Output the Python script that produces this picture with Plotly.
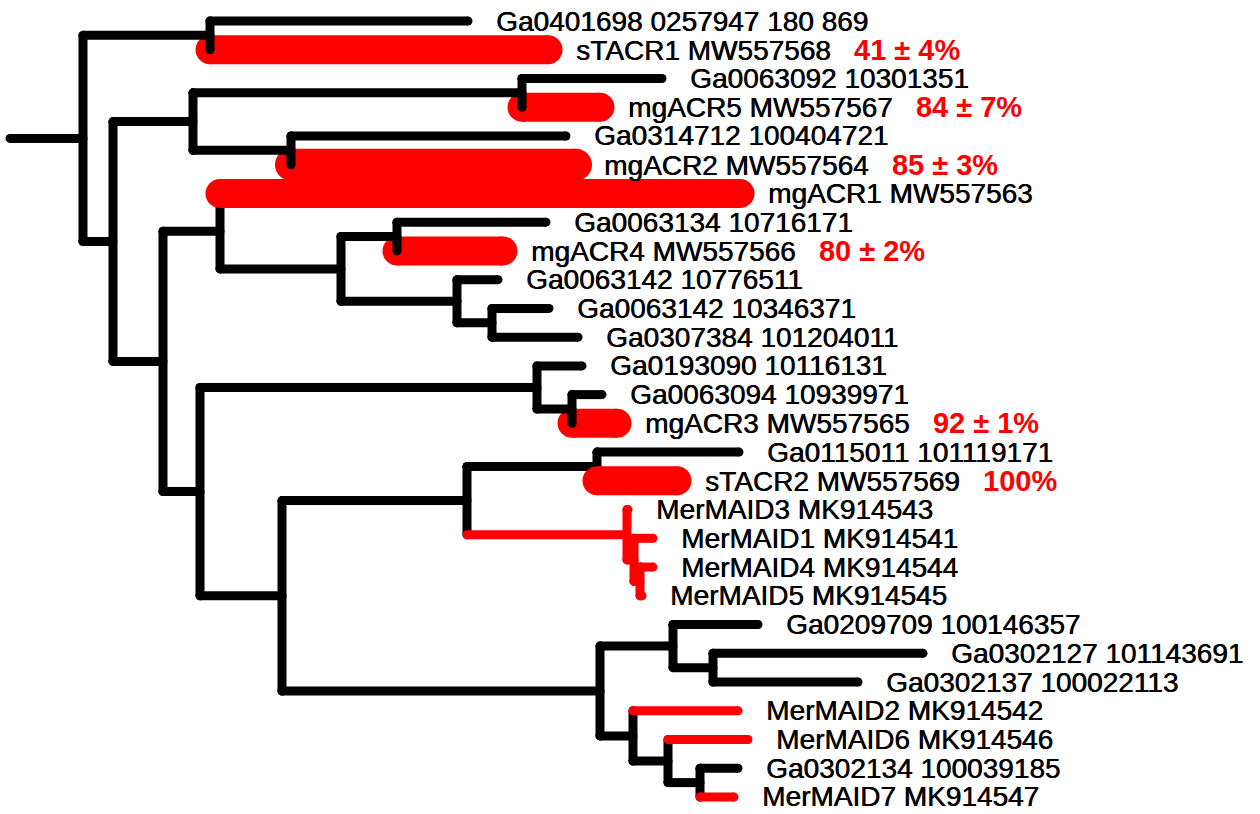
import plotly.graph_objects as go

# ---------------- data: tree topology and branch lengths ----------------
node_names = ["root", "A", "B", "B1", "B2", "B1a", "B1b", "B2a", "B2b", "B2a2", "B2a2a",
              "B2a2b", "B2a2b2", "B2b1", "B2b1b", "B2b2", "B2b2a", "B2b2a1", "M0", "M1",
              "M2", "N", "P", "Q", "R", "S", "T"]
node_parents = [None, "root", "root", "B", "B", "B1", "B1", "B2", "B2", "B2a", "B2a2",
                "B2a2", "B2a2b", "B2b", "B2b1", "B2b", "B2b2", "B2b2a", "B2b2a", "M0",
                "M1", "B2b2", "N", "P", "N", "R", "S"]
node_lengths = [0.073, 0.127, 0.030, 0.080, 0.050, 0.329, 0.098, 0.057, 0.037, 0.121, 0.056,
                0.116, 0.035, 0.337, 0.035, 0.082, 0.185, 0.130, 0.160, 0.007,
                0.006, 0.318, 0.073, 0.040, 0.033, 0.035, 0.032]

leaf_labels = ["Ga0401698 0257947 180 869", "sTACR1 MW557568", "Ga0063092 10301351",
               "mgACR5 MW557567", "Ga0314712 100404721", "mgACR2 MW557564", "mgACR1 MW557563",
               "Ga0063134 10716171", "mgACR4 MW557566", "Ga0063142 10776511",
               "Ga0063142 10346371", "Ga0307384 101204011", "Ga0193090 10116131",
               "Ga0063094 10939971", "mgACR3 MW557565", "Ga0115011 101119171",
               "sTACR2 MW557569", "MerMAID3 MK914543", "MerMAID1 MK914541",
               "MerMAID4 MK914544", "MerMAID5 MK914545", "Ga0209709 100146357",
               "Ga0302127 101143691", "Ga0302137 100022113", "MerMAID2 MK914542",
               "MerMAID6 MK914546", "Ga0302134 100039185", "MerMAID7 MK914547"]
leaf_parents = ["A", "A", "B1a", "B1a", "B1b", "B1b", "B2a", "B2a2a", "B2a2a", "B2a2b",
                "B2a2b2", "B2a2b2", "B2b1", "B2b1b", "B2b1b", "B2b2a1", "B2b2a1", "M0", "M1",
                "M2", "M2", "P", "Q", "Q", "R", "S", "T", "T"]
leaf_lengths = [0.258, 0.338, 0.140, 0.078, 0.275, 0.285, 0.520, 0.149, 0.106, 0.041,
                0.057, 0.086, 0.045, 0.030, 0.045, 0.142, 0.080, 0.001, 0.019,
                0.013, 0.002, 0.085, 0.210, 0.145, 0.105, 0.080, 0.038, 0.034]
leaf_activity = ["", "41 ± 4%", "", "84 ± 7%", "", "85 ± 3%", "", "", "80 ± 2%", "",
                 "", "", "", "", "92 ± 1%", "", "100%", "", "", "", "", "", "", "", "", "", "", ""]

# ---------------- styling ----------------
RED = "#ff0000"
BLACK = "#000000"
LW = 9
BAR_W = {"sTACR1 MW557568": 29, "mgACR5 MW557567": 29, "mgACR2 MW557564": 32,
         "mgACR1 MW557563": 29, "mgACR4 MW557566": 29, "mgACR3 MW557565": 29,
         "sTACR2 MW557569": 29}
BAR_OVER = {"mgACR1 MW557563", "sTACR2 MW557569"}
RED_NODES = {"M0", "M1", "M2"}
RED_THIN_LEAVES = {"MerMAID3 MK914543", "MerMAID1 MK914541", "MerMAID4 MK914544",
                   "MerMAID5 MK914545", "MerMAID2 MK914542", "MerMAID6 MK914546",
                   "MerMAID7 MK914547"}
LABEL_GAP = 0.026

# ---------------- layout of the tree ----------------
parent_of = dict(zip(node_names, node_parents))
length_of = dict(zip(node_names, node_lengths))
children = {n: [] for n in node_names}
for n, p in zip(node_names, node_parents):
    if p is not None:
        children[p].append(("node", n))
for i, p in enumerate(leaf_parents):
    children[p].append(("leaf", i))

node_x = {}
def set_x(n, x):
    node_x[n] = x
    for kind, c in children[n]:
        if kind == "node":
            set_x(c, x + length_of[c])
set_x("root", 0.0)

node_y = {}
def get_y(kind, c):
    if kind == "leaf":
        return float(c)
    if c in node_y:
        return node_y[c]
    ys = [get_y(k, cc) for k, cc in children[c]]
    node_y[c] = (min(ys) + max(ys)) / 2
    return node_y[c]
for n in node_names:
    get_y("node", n)

leaf_x = [node_x[p] + l for p, l in zip(leaf_parents, leaf_lengths)]

black_x, black_y, redt_x, redt_y = [], [], [], []
def seg(xs, ys, x0, y0, x1, y1):
    xs += [x0, x1, None]
    ys += [y0, y1, None]

# root stub
seg(black_x, black_y, -length_of["root"], node_y["root"], 0.0, node_y["root"])
# verticals and internal horizontals
for n in node_names:
    ys = [get_y(k, c) for k, c in children[n]]
    tgt = (redt_x, redt_y) if n in RED_NODES else (black_x, black_y)
    seg(*tgt, node_x[n], min(ys), node_x[n], max(ys))
    p = parent_of[n]
    if p is not None:
        seg(*tgt, node_x[p], node_y[n], node_x[n], node_y[n])

bars_under, bars_over = [], []
for i, lab in enumerate(leaf_labels):
    x0 = node_x[leaf_parents[i]]
    if lab in BAR_W:
        (bars_over if lab in BAR_OVER else bars_under).append((x0, leaf_x[i], i, BAR_W[lab]))
    elif lab in RED_THIN_LEAVES:
        seg(redt_x, redt_y, x0, i, leaf_x[i], i)
    else:
        seg(black_x, black_y, x0, i, leaf_x[i], i)

def bar_trace(x0, x1, y, w):
    return go.Scatter(x=[x0, x1], y=[y, y], mode="lines+markers",
                      line=dict(color=RED, width=w),
                      marker=dict(color=RED, size=w, line=dict(width=0)),
                      hoverinfo="skip")

fig = go.Figure()
for b in bars_under:
    fig.add_trace(bar_trace(*b))
fig.add_trace(go.Scatter(x=black_x, y=black_y, mode="lines+markers",
                         line=dict(color=BLACK, width=LW),
                         marker=dict(color=BLACK, size=LW, line=dict(width=0)),
                         hoverinfo="skip"))
for b in bars_over:
    fig.add_trace(bar_trace(*b))
fig.add_trace(go.Scatter(x=redt_x, y=redt_y, mode="lines+markers",
                         line=dict(color=RED, width=LW),
                         marker=dict(color=RED, size=LW, line=dict(width=0)),
                         hoverinfo="skip"))

for i, lab in enumerate(leaf_labels):
    txt = lab
    if leaf_activity[i]:
        txt += ("\u00a0\u00a0\u00a0<b><span style='color:%s;font-size:29px;"
                "text-shadow:none'>%s</span></b>") % (RED, leaf_activity[i])
    fig.add_annotation(x=leaf_x[i] + LABEL_GAP, y=i, text=txt, showarrow=False,
                       xanchor="left", yanchor="middle",
                       font=dict(family="Liberation Sans, Arial, sans-serif", size=28,
                                 color="#000000", shadow="0.6px 0px 0px #000000"))

W, H = 1260, 814
px_per_unit = 1000.0
root_px = 83.0
px_per_leaf = 28.74
top_px = 21.0
fig.update_layout(
    width=W, height=H, margin=dict(l=0, r=0, t=0, b=0),
    paper_bgcolor="white", plot_bgcolor="white", showlegend=False,
    xaxis=dict(range=[-root_px / px_per_unit, (W - root_px) / px_per_unit],
               visible=False, fixedrange=True),
    yaxis=dict(range=[(H - top_px) / px_per_leaf, -top_px / px_per_leaf],
               visible=False, fixedrange=True),
)
fig.write_html("out.html", config={"displayModeBar": False, "staticPlot": True},
               post_script="document.body.style.margin='0px';")
